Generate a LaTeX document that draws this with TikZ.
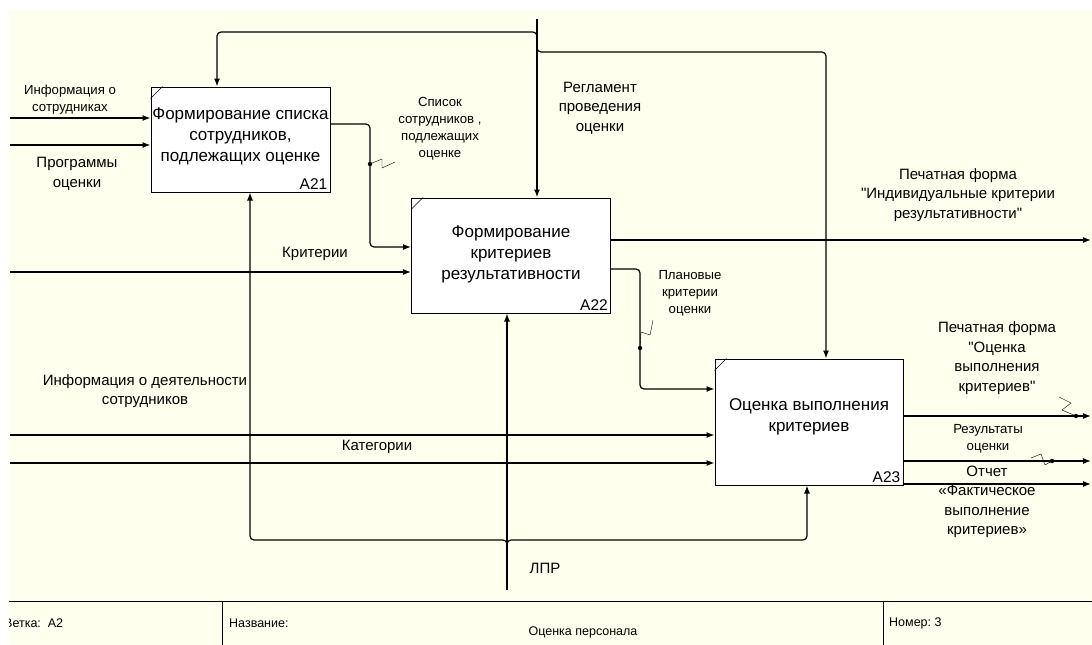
\documentclass[tikz,border=0pt]{standalone}
\usepackage{fontspec}
\newfontfamily\idef{Liberation Sans}
\usetikzlibrary{arrows.meta}

\definecolor{paper}{HTML}{FFFFEE}

\tikzset{
  func/.style={draw, line width=1pt, fill=white, inner sep=0pt},
  functxt/.style={align=center, inner sep=0pt, font=\idef\fontsize{17}{21}\selectfont},
  num/.style={anchor=south east, inner sep=3pt, font=\idef\fontsize{15.5}{15.5}\selectfont},
  lbl/.style={align=center, inner sep=0pt, font=\idef\fontsize{15}{19.5}\selectfont},
  sml/.style={align=center, inner sep=0pt, font=\idef\fontsize{13.2}{17}\selectfont},
  foot/.style={anchor=west, inner sep=0pt, font=\idef\fontsize{12.5}{14}\selectfont},
  flow/.style={line width=1.2pt, rounded corners=4pt},
}

\begin{document}
\begin{tikzpicture}[x=1pt, y=-1pt, >={Latex[length=8pt,width=6pt]}]
\clip (0,0) rectangle (1092,645);
\useasboundingbox (0,0) rectangle (1092,645);
\fill[paper] (9,10) rectangle (1092,645);

% functions
\node[func, minimum width=179pt, minimum height=105pt] (A21) at (240.5,139.5) {};
\node[func, minimum width=199pt, minimum height=115pt] (A22) at (511,255.5) {};
\node[func, minimum width=188pt, minimum height=126pt] (A23) at (809,422) {};
\node[functxt] (t21) at ([yshift=3pt]A21.center) {Формирование списка\\сотрудников,\\подлежащих оценке};
\node[functxt] (t22) at ([yshift=1pt]A22.center) {Формирование\\критериев\\результативности};
\node[functxt] (t23) at ([yshift=5pt]A23.center) {Оценка выполнения\\критериев};
\node[num] at (A21.south east) {A21};
\node[num] at (A22.south east) {A22};
\node[num] at (A23.south east) {A23};
\foreach \b in {A21,A22,A23}
  \draw ([yshift=-12pt]\b.north west) -- ([xshift=12pt]\b.north west);

% free ends
\coordinate (infsotr) at (10,118);
\coordinate (progr) at (10,145);
\coordinate (krit) at (10,272);
\coordinate (infdeyat) at (10,435);
\coordinate (kateg) at (10,463);
\coordinate (regl) at (537,19);
\coordinate (lpr) at (507,590);
\coordinate (pfind) at (1091,240);
\coordinate (pfocen) at (1091,416);
\coordinate (rezult) at (1091,461);
\coordinate (otchet) at (1091,484);

% inputs
\draw[flow, ->] (infsotr) -- (infsotr -| A21.west);
\draw[flow, ->] (progr) -- (progr -| A21.west);
\draw[flow, ->] (krit) -- (krit -| A22.west);
\draw[flow, ->] (infdeyat) -- (infdeyat -| A23.west);
\draw[flow, ->] (kateg) -- (kateg -| A23.west);

% controls
\draw[line width=2.4pt, ->] (regl) -- (regl |- A22.north);
\draw[flow, ->] (537,37) -- (537,32) -- (217,32) -- (217,0 |- A21.north);
\draw[flow, ->] (537,47) -- (537,52) -- (826,52) -- (826,0 |- A23.north);

% mechanisms
\draw[flow, ->] (lpr) -- (lpr |- A22.south);
\draw[flow, ->] (507,547) -- (507,540) -- (250,540) -- (250,0 |- A21.south);
\draw[flow, ->] (507,547) -- (507,540) -- (807,540) -- (807,0 |- A23.south);

% outputs
\draw[flow, ->] (A21.east |- 0,124) -- (370,124) -- (370,247) -- (A22.west |- 0,247);
\draw[flow, ->] (A22.east |- 0,269) -- (640,269) -- (640,389) -- (A23.west |- 0,389);
\draw[flow, ->] (A22.east |- pfind) -- (pfind);
\draw[flow, ->] (A23.east |- pfocen) -- (pfocen);
\draw[flow, ->] (A23.east |- rezult) -- (rezult);
\draw[flow, ->] (A23.east |- otchet) -- (otchet);

% squiggles
\fill (370,164) circle[radius=2.2pt];
\draw (370,164) -- (382,159) -- (382,168) -- (395,162);
\fill (640,348) circle[radius=2.2pt];
\draw (640,348) -- (641,332) -- (650,335) -- (653,320);
\fill (1076,416) circle[radius=2.2pt];
\draw (1076,416) -- (1062,410) -- (1071,403) -- (1059,397);
\fill (1052,461) circle[radius=2.2pt];
\draw (1052,461) -- (1045,465) -- (1041,454) -- (1031,458);

% labels
\node[sml] (linfsotr) at (70,100) {Информация о\\сотрудниках};
\node[lbl] (lprogr) at (77,174) {Программы\\оценки};
\node[sml] (lspisok) at (440,129) {Список\\сотрудников ,\\подлежащих\\оценке};
\node[lbl] (lregl) at (600,108) {Регламент\\проведения\\оценки};
\node[lbl] (lkrit) at (315,254) {Критерии};
\node[lbl] (lpfind) at (958,195) {Печатная форма\\"Индивидуальные критерии\\результативности"};
\node[sml] (lplan) at (690,293) {Плановые\\критерии\\оценки};
\node[lbl] (linfdeyat) at (145,391) {Информация о деятельности\\сотрудников};
\node[lbl] (lkateg) at (377,447) {Категории};
\node[lbl] (lpfocen) at (997,358) {Печатная форма\\"Оценка\\выполнения\\критериев"};
\node[sml] (lrezult) at (988,439) {Результаты\\оценки};
\node[lbl] (lotchet) at (987,502) {Отчет\\«Фактическое\\выполнение\\критериев»};
\node[lbl] (llpr) at (545,568) {ЛПР};

% footer
\draw (9,601) -- (1092,601);
\draw (222,601) -- (222,645);
\draw (883,601) -- (883,645);
\begin{scope}
  \clip (9,601) rectangle (222,645);
  \node[foot] (vetka) at (4,623) {Ветка:\ \ A2};
\end{scope}
\node[foot] (nazv) at (229,623) {Название:};
\node[foot, anchor=center] (nazvtxt) at (583,632) {Оценка персонала};
\node[foot] (nomer) at (889,623) {Номер:\ 3};
\end{tikzpicture}
\end{document}
